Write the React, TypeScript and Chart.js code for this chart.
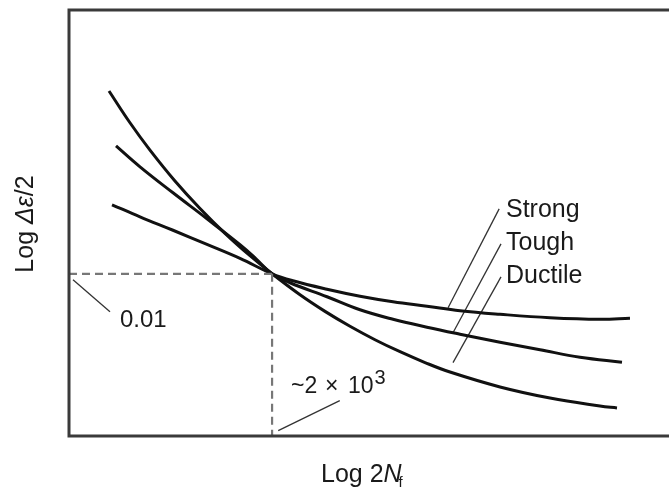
import React, { useEffect, useRef } from "react";
import { Chart, registerables } from "chart.js";

Chart.register(...registerables);

// Axis ranges: x = log(2Nf), y = log(Δε/2)
const X_MIN = 0;
const X_MAX = 9.75;
const Y_MIN = -3.23;
const Y_MAX = 0;

// Crossing point (~2 x 10^3 reversals, strain amplitude 0.01)
const crossX = 3.3;
const crossY = -2.0;

const ductileX = [0.65, 0.991, 1.316, 1.722, 2.129, 2.535, 2.941, 3.3, 3.754, 4.16, 4.566, 4.972, 5.379, 5.785, 6.191, 7.004, 7.816, 8.628, 8.905];
const ductileY = [-0.614, -0.855, -1.062, -1.296, -1.505, -1.693, -1.863, -2.0, -2.159, -2.285, -2.398, -2.5, -2.591, -2.673, -2.745, -2.858, -2.942, -3.002, -3.017];

const toughX = [0.764, 1.154, 1.69, 2.242, 2.779, 3.039, 3.3, 3.591, 4.192, 4.729, 5.265, 5.817, 6.354, 7.004, 7.654, 8.304, 8.986];
const toughY = [-1.03, -1.189, -1.386, -1.583, -1.78, -1.886, -2.0, -2.068, -2.174, -2.273, -2.345, -2.405, -2.458, -2.519, -2.576, -2.633, -2.67];

const strongX = [0.699, 1.154, 1.69, 2.242, 2.779, 3.3, 3.64, 4.192, 4.729, 5.265, 5.817, 6.354, 7.004, 7.816, 8.628, 9.116];
const strongY = [-1.477, -1.568, -1.67, -1.777, -1.883, -2.0, -2.053, -2.117, -2.17, -2.212, -2.246, -2.28, -2.307, -2.333, -2.345, -2.337];

// Leader lines [x1, y1, x2, y2]
const leaderStrong = [6.99, -1.508, 6.16, -2.258];
const leaderTough = [7.02, -1.773, 6.24, -2.447];
const leaderDuctile = [7.02, -2.023, 6.24, -2.674];
const leaderStrain = [0.065, -2.045, 0.666, -2.288];
const leaderLife = [3.4, -3.189, 4.4, -2.962];

const seriesLabels = ["Strong", "Tough", "Ductile"];
const strainLabel = "0.01";
const lifeLabel = ["~2", "×", "10", "3"];
const yTitle = ["Log ", "Δε", "/2"];
const xTitle = ["Log 2", "N", "f"];

const pts = (xs: number[], ys: number[]) => xs.map((x, i) => ({ x, y: ys[i] }));
const seg = (s: number[]) => [
  { x: s[0], y: s[1] },
  { x: s[2], y: s[3] },
];

const FONT = "'Liberation Sans', Arial, Helvetica, sans-serif";

type Run = { text: string; font: string; dx?: number; dy?: number; x?: number };

function drawRuns(ctx: CanvasRenderingContext2D, runs: Run[], x: number, y: number) {
  let cx = x;
  for (const r of runs) {
    ctx.font = r.font;
    const px = r.x !== undefined ? r.x : cx + (r.dx || 0);
    ctx.fillText(r.text, px, y + (r.dy || 0));
    cx = px + ctx.measureText(r.text).width;
  }
}
function runsWidth(ctx: CanvasRenderingContext2D, runs: Run[]) {
  let w = 0;
  for (const r of runs) {
    ctx.font = r.font;
    w += ctx.measureText(r.text).width + (r.dx || 0);
  }
  return w;
}

const framePlugin = {
  id: "frameAndText",
  afterDatasetsDraw(chart: any) {
    const { ctx, chartArea } = chart;
    const { left, top, bottom } = chartArea;
    const W = chart.width;
    ctx.save();
    // frame: top, left, bottom (no right edge in view)
    ctx.strokeStyle = "#3a3a3a";
    ctx.lineWidth = 3;
    ctx.beginPath();
    ctx.moveTo(W + 5, top);
    ctx.lineTo(left, top);
    ctx.lineTo(left, bottom);
    ctx.lineTo(W + 5, bottom);
    ctx.stroke();

    ctx.fillStyle = "#1a1a1a";
    ctx.textBaseline = "alphabetic";
    ctx.textAlign = "left";
    const n = `25px ${FONT}`;
    // series labels
    ctx.font = n;
    ctx.fillText(seriesLabels[0], 506, 217);
    ctx.fillText(seriesLabels[1], 506, 250);
    ctx.fillText(seriesLabels[2], 506, 283);
    // strain label
    ctx.font = `24px ${FONT}`;
    ctx.fillText(strainLabel, 120, 327);
    // life label
    drawRuns(
      ctx,
      [
        { text: lifeLabel[0], font: `23px ${FONT}`, x: 291 },
        { text: lifeLabel[1], font: `23px ${FONT}`, x: 325 },
        { text: lifeLabel[2], font: `23px ${FONT}`, x: 348 },
        { text: lifeLabel[3], font: `20px ${FONT}`, dx: 1, dy: -9 },
      ],
      0,
      393
    );
    // x title
    drawRuns(
      ctx,
      [
        { text: xTitle[0], font: n },
        { text: xTitle[1], font: `italic ${n}` },
        { text: xTitle[2], font: `15px ${FONT}`, dx: -3, dy: 5 },
      ],
      321,
      482
    );
    // y title
    ctx.translate(33, 224);
    ctx.rotate(-Math.PI / 2);
    const yr: Run[] = [
      { text: yTitle[0], font: n },
      { text: yTitle[1], font: `italic ${n}` },
      { text: yTitle[2], font: n },
    ];
    const w = runsWidth(ctx, yr);
    drawRuns(ctx, yr, -w / 2, 0);
    ctx.restore();
  },
};

export default function App() {
  const ref = useRef<HTMLCanvasElement>(null);
  useEffect(() => {
    if (!ref.current) return;
    const curve = (label: string, data: any[]) => ({
      label,
      data,
      showLine: true,
      borderColor: "#111",
      borderWidth: 3,
      pointRadius: 0,
      tension: 0.4,
      fill: false,
    });
    const thin = (data: any[]) => ({
      data,
      showLine: true,
      borderColor: "#333",
      borderWidth: 1.3,
      pointRadius: 0,
      fill: false,
    });
    const dashed = (data: any[]) => ({
      data,
      showLine: true,
      borderColor: "#777",
      borderWidth: 2.2,
      borderDash: [8, 5],
      pointRadius: 0,
      fill: false,
    });
    const chart = new Chart(ref.current, {
      type: "scatter",
      data: {
        datasets: [
          dashed([
            { x: X_MIN, y: crossY },
            { x: crossX, y: crossY },
          ]),
          dashed([
            { x: crossX, y: crossY },
            { x: crossX, y: Y_MIN },
          ]),
          curve("Ductile", pts(ductileX, ductileY)),
          curve("Tough", pts(toughX, toughY)),
          curve("Strong", pts(strongX, strongY)),
          thin(seg(leaderStrong)),
          thin(seg(leaderTough)),
          thin(seg(leaderDuctile)),
          thin(seg(leaderStrain)),
          thin(seg(leaderLife)),
        ] as any,
      },
      options: {
        animation: false,
        responsive: false,
        devicePixelRatio: 1,
        layout: { padding: { left: 69, top: 10, right: 0, bottom: 56 } },
        plugins: { legend: { display: false }, tooltip: { enabled: false } },
        scales: {
          x: { type: "linear", min: X_MIN, max: X_MAX, display: false },
          y: { type: "linear", min: Y_MIN, max: Y_MAX, display: false },
        },
      },
      plugins: [framePlugin],
    });
    return () => chart.destroy();
  }, []);
  return (
    <div style={{ position: "fixed", left: 0, top: 0, width: 669, height: 492, background: "#fff" }}>
      <canvas ref={ref} width={669} height={492} style={{ display: "block" }} />
    </div>
  );
}
